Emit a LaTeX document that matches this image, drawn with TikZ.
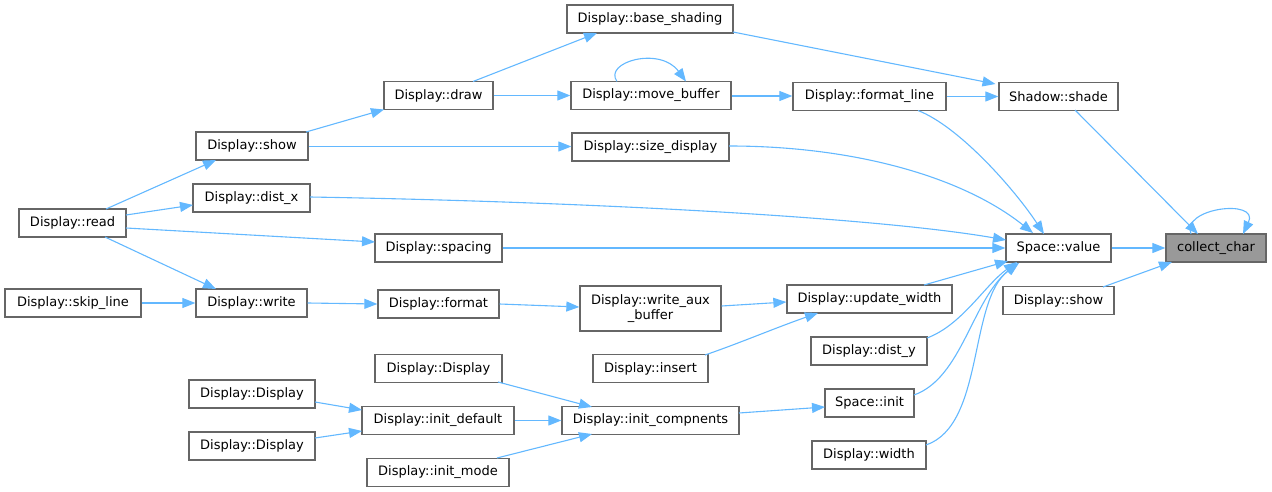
\documentclass[tikz,border=0pt]{standalone}
\usepackage{fontspec}
\setmainfont{DejaVu Sans}
\usetikzlibrary{arrows.meta,calc}
\definecolor{edgeblue}{HTML}{63B8FF}
\definecolor{boxgray}{HTML}{666666}
\definecolor{rootgray}{HTML}{999999}
\tikzset{
  fn/.style={draw=boxgray, line width=1.3pt, fill=white, minimum height=28pt, inner sep=0pt,
    font=\fontsize{13pt}{15.5pt}\selectfont, text=black, align=center},
  root/.style={fn, fill=rootgray},
  link/.style={draw=edgeblue, line width=1.1pt, -{Triangle[length=13pt,width=10pt]}, color=edgeblue},
}
\begin{document}
\begin{tikzpicture}[x=1pt,y=-1pt]
\useasboundingbox (0,0) rectangle (1272,492);
% nodes
\node[fn, minimum width=166pt] (base) at (650,19) {Display::base\_shading};
\node[fn, minimum width=109pt] (draw) at (438.5,95.5) {Display::draw};
\node[fn, minimum width=160pt] (movebuf) at (651,95.5) {Display::move\_buffer};
\node[fn, minimum width=112pt] (showL) at (252,146) {Display::show};
\node[fn, minimum width=157pt] (sizedisp) at (650.5,147) {Display::size\_display};
\node[fn, minimum width=117pt] (distx) at (251.5,198) {Display::dist\_x};
\node[fn, minimum width=107pt] (read) at (72.5,223) {Display::read};
\node[fn, minimum width=127pt] (spacing) at (438.5,248) {Display::spacing};
\node[fn, minimum width=153pt] (formatline) at (869.5,96.5) {Display::format\_line};
\node[fn, minimum width=119pt] (shade) at (1058.5,96.5) {Shadow::shade};
\node[fn, minimum width=105pt] (value) at (1058.5,248) {Space::value};
\node[root, minimum width=100pt] (collect) at (1216,248) {collect\_char};
\node[fn, minimum width=136pt] (skipline) at (73,303) {Display::skip\_line};
\node[fn, minimum width=111pt] (write) at (251.5,303) {Display::write};
\node[fn, minimum width=121pt] (format) at (438.5,304) {Display::format};
\node[fn, minimum width=141pt, minimum height=45pt] (writeaux) at (650.5,308.5) {Display::write\_aux\\\_buffer};
\node[fn, minimum width=165pt] (updw) at (869.5,299) {Display::update\_width};
\node[fn, minimum width=111pt] (showR) at (1058.5,300.5) {Display::show};
\node[fn, minimum width=116pt] (disty) at (869,351) {Display::dist\_y};
\node[fn, minimum width=127pt] (disptop) at (438.5,368.5) {Display::Display};
\node[fn, minimum width=115pt] (insert) at (650.5,368.5) {Display::insert};
\node[fn, minimum width=126pt] (dispmid) at (252,394) {Display::Display};
\node[fn, minimum width=152pt] (initdef) at (438,420.5) {Display::init\_default};
\node[fn, minimum width=177pt] (initcomp) at (650.5,420.5) {Display::init\_compnents};
\node[fn, minimum width=89pt] (spaceinit) at (869.5,403) {Space::init};
\node[fn, minimum width=126pt] (displow) at (252,446) {Display::Display};
\node[fn, minimum width=142pt] (initmode) at (438,472.5) {Display::init\_mode};
\node[fn, minimum width=114pt] (width) at (869,455) {Display::width};
% edges
\draw[link] ($(read)+(33.5,-14)$) -- ($(showL)+(-36,14)$);
\draw[link] ($(read)+(53.5,-8)$) -- ($(distx)+(-58.5,7)$);
\draw[link] ($(read)+(53.5,5)$) -- ($(spacing)+(-63.5,-6)$);
\draw[link] ($(read)+(32.5,14)$) -- ($(write)+(-35.5,-14)$);
\draw[link] (skipline.east) -- (write.west);
\draw[link] (write.east) -- (format.west);
\draw[link] (format.east) -- ($(writeaux.west)+(0,-1.5)$);
\draw[link] ($(writeaux.east)+(0,-2.5)$) -- ($(updw.west)+(0,3)$);
\draw[link] ($(insert)+(54.5,-13.5)$) .. controls (740,343) and (775,328) .. ($(updw)+(-51.5,14)$);
\draw[link] ($(showL)+(54,-14)$) -- ($(draw)+(-54.5,14)$);
\draw[link] ($(showL.east)+(0,0.5)$) -- ($(sizedisp.west)+(0,-0.5)$);
\draw[link] ($(draw)+(34.5,-14)$) -- ($(base)+(-53,14)$);
\draw[link] (draw.east) -- (movebuf.west);
\draw[link] ($(movebuf)+(-34,-14)$) .. controls (603,62) and (660,46) .. ($(movebuf)+(35,-14)$);
\draw[link] ($(movebuf.east)+(0,0.5)$) -- ($(formatline.west)+(0,-0.5)$);
\draw[link] (formatline.east) -- (shade.west);
\draw[link] ($(base)+(83,13)$) -- ($(shade)+(-63,-12.5)$);
\draw[link] ($(shade)+(16.5,13.5)$) -- ($(collect)+(-18,-14)$);
\draw[link] ($(collect)+(-25,-14)$) .. controls (1180,208) and (1260,198) .. ($(collect)+(27,-14)$);
\draw[link] (value.east) -- (collect.west);
\draw[link] ($(showR)+(44.5,-13.5)$) -- ($(collect)+(-44,14)$);
\draw[link] ($(formatline)+(48.5,14)$) .. controls (960,127) and (1015,190) .. ($(value)+(-14.5,-14)$);
\draw[link] ($(sizedisp)+(78.5,-1)$) .. controls (850,146) and (960,175) .. ($(value)+(-25.5,-15)$);
\draw[link] ($(distx)+(58.5,-1)$) .. controls (600,202) and (880,218) .. ($(value)+(-52.5,-8)$);
\draw[link] (spacing.east) -- (value.west);
\draw[link] ($(updw)+(54.5,-14)$) -- ($(value)+(-50.5,13)$);
\draw[link] ($(disty)+(58,-13)$) .. controls (962,325) and (985,285) .. ($(value)+(-41.5,14)$);
\draw[link] ($(spaceinit)+(44.5,-8)$) .. controls (962,378) and (972,300) .. ($(value)+(-40.5,15)$);
\draw[link] ($(width)+(57,-10)$) .. controls (985,425) and (968,300) .. ($(value)+(-39.5,15)$);
\draw[link] ($(disptop)+(59.5,13.5)$) -- ($(initcomp)+(-58.5,-13.5)$);
\draw[link] ($(dispmid)+(63,8)$) -- ($(initdef)+(-76,-10.5)$);
\draw[link] ($(displow)+(63,-8)$) -- ($(initdef)+(-76,10.5)$);
\draw[link] (initdef.east) -- (initcomp.west);
\draw[link] ($(initmode)+(59,-14.5)$) -- ($(initcomp)+(-58.5,13.5)$);
\draw[link] ($(initcomp)+(88.5,-7.5)$) -- ($(spaceinit)+(-44.5,4)$);
\end{tikzpicture}
\end{document}
